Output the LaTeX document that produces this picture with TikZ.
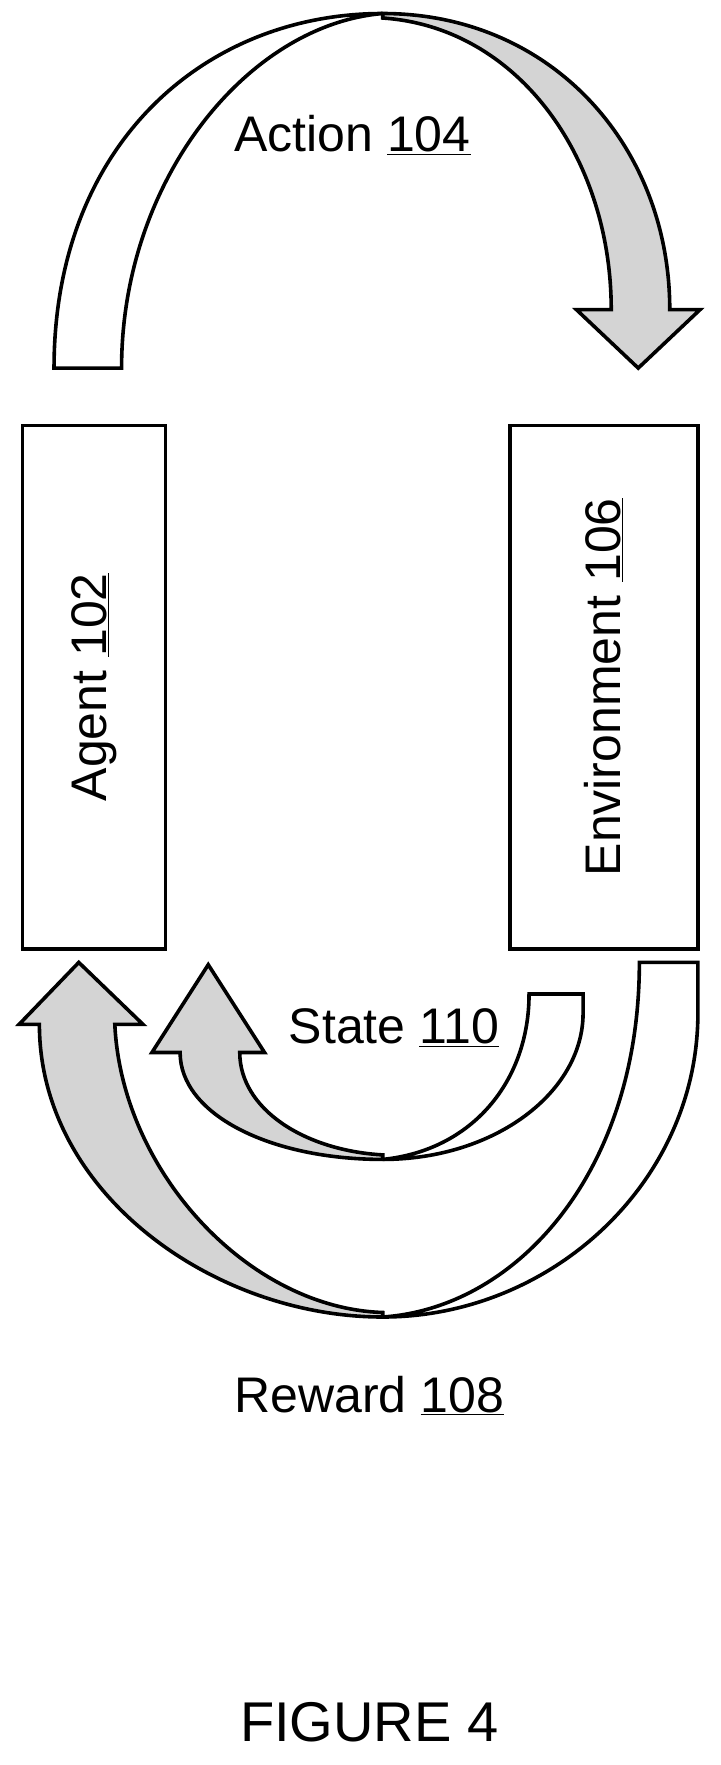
\documentclass[tikz,border=0pt]{standalone}
\usepackage{fontspec}
\setmainfont{Liberation Sans}
\begin{document}
\begin{tikzpicture}[x=1.125pt,y=-1.125pt,line width=3.6pt,line join=miter,
  band/.style={draw=black,fill=white},
  shade/.style={draw=black,fill=black!17},
  lbl/.style={font=\fontsize{50}{60}\selectfont,inner sep=0pt},
  boxn/.style={draw=black,line width=3.6pt,minimum width=127*1.125pt,inner sep=0pt}]
\useasboundingbox (0,0) rectangle (640,1568);
% Action arrow
\draw[shade] (340,12) .. controls (490,12) and (595,130) .. (595,275) -- (622,275) -- (567,327) -- (512,275) -- (543,275) .. controls (543,140) and (460,24) .. (340,16) -- cycle;
\draw[band] (48,327) .. controls (48,130) and (180,12) .. (340,12) .. controls (220,22) and (108,160) .. (108,327) -- cycle;
\node[lbl] (action) at (313,120) {Action \underline{104}};
% boxes
\node[boxn,minimum height=465*1.125pt] (agent) at (83.5,610.5) {};
\node[lbl,rotate=90] (agentt) at (agent.center) {Agent \underline{102}};
\node[boxn,minimum width=167*1.125pt,minimum height=465*1.125pt] (env) at (536.5,610.5) {};
\node[lbl,rotate=90] (envt) at (env.center) {Environment \underline{106}};
% State arrow
\draw[shade] (340,1030) .. controls (240,1030) and (160,990) .. (160,935) -- (135,935) -- (185,857) -- (235,935) -- (213,935) .. controls (213,985) and (270,1022) .. (340,1026) -- cycle;
\draw[band] (518,883) -- (470,883) .. controls (470,960) and (420,1022) .. (340,1030) .. controls (440,1030) and (518,970) .. (518,900) -- cycle;
\node[lbl] (state) at (350,913) {State \underline{110}};
% Reward arrow
\draw[shade] (340,1170) .. controls (190,1170) and (35,1060) .. (35,910) -- (17,910) -- (70,855) -- (127,910) -- (102,910) .. controls (108,1040) and (220,1162) .. (340,1166) -- cycle;
\draw[band] (620,855) -- (568,855) .. controls (568,1040) and (460,1162) .. (340,1170) .. controls (490,1170) and (620,1050) .. (620,900) -- cycle;
\node[lbl] (reward) at (328,1240) {Reward \underline{108}};
\node[lbl,font=\fontsize{56}{66}\selectfont] (fig) at (328,1530) {FIGURE 4};
\end{tikzpicture}
\end{document}
